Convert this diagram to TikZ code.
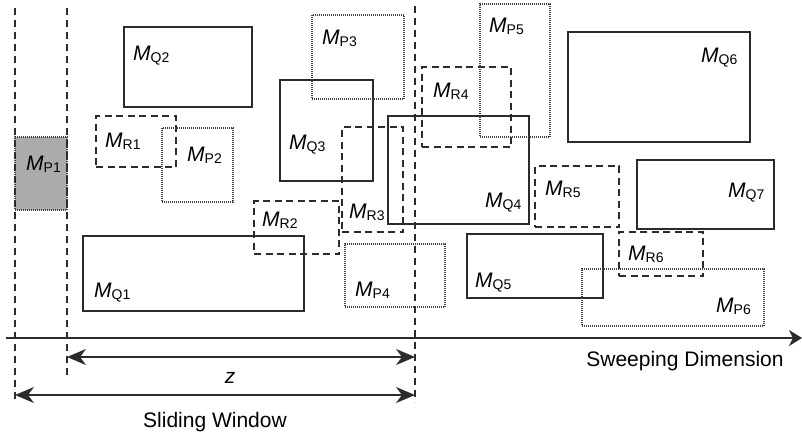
\documentclass[tikz,border=0pt]{standalone}
\usepackage{fontspec}
\setmainfont{Liberation Sans}
\usetikzlibrary{arrows.meta,fit}
\definecolor{linec}{HTML}{2B2B2B}
\definecolor{dotc}{HTML}{404040}
\definecolor{fillc}{HTML}{ABABAB}
\newcommand\ml[1]{{\itshape M}\raisebox{-2.5pt}{\fontsize{14}{14}\selectfont #1}}
\begin{document}
\begin{tikzpicture}[x=1pt,y=-1pt,
  qbox/.style={draw=linec, line width=1.4pt, inner sep=0pt},
  rbox/.style={draw=linec, line width=1.9pt, dash pattern=on 7pt off 4.5pt, inner sep=0pt},
  pbox/.style={draw=dotc, line width=1.3pt, dash pattern=on 1pt off 1pt, inner sep=0pt},
  vline/.style={draw=linec, line width=1.6pt, dash pattern=on 7pt off 5pt},
  lab/.style={anchor=base west, inner sep=0pt, font=\fontsize{21}{21}\selectfont},
  txt/.style={inner sep=0pt, font=\fontsize{21}{21}\selectfont},
  tip/.style={Stealth[length=19pt,width=16pt,inset=6pt]},
  dim/.style={{Stealth[length=19pt,width=16pt,inset=6pt]}-{Stealth[length=19pt,width=16pt,inset=6pt]}, draw=linec, line width=1.6pt},
]
\useasboundingbox (0,0) rectangle (802,440);
% vertical dashed lines
\coordinate (v1t) at (15,8);   \coordinate (v1b) at (15,402);
\coordinate (v2t) at (67,8);   \coordinate (v2b) at (67,375);
\coordinate (v3t) at (415,6);  \coordinate (v3b) at (415,402);
% MP1 gray box
\node[pbox, fill=fillc, fit={(15,137)(67,210)}] (P1) {};
% solid boxes (Q)
\node[qbox, fit={(124,27)(252,107)}] (Q2) {};
\node[qbox, fit={(83,236)(304,311)}] (Q1) {};
\node[qbox, fit={(280,80)(373,181)}] (Q3) {};
\node[qbox, fit={(388,116)(529,224)}] (Q4) {};
\node[qbox, fit={(467,234)(603,298)}] (Q5) {};
\node[qbox, fit={(568,32)(750,142)}] (Q6) {};
\node[qbox, fit={(637,160)(774,229)}] (Q7) {};
% dashed boxes (R)
\node[rbox, fit={(96,116)(176,167)}] (R1) {};
\node[rbox, fit={(254,201)(339,254)}] (R2) {};
\node[rbox, fit={(342,127)(403,232)}] (R3) {};
\node[rbox, fit={(422,67)(511,147)}] (R4) {};
\node[rbox, fit={(535,166)(619,227)}] (R5) {};
\node[rbox, fit={(619,232)(703,276)}] (R6) {};
% dotted boxes (P)
\node[pbox, fit={(162,128)(233,202)}] (P2) {};
\node[pbox, fit={(312,15)(404,99)}] (P3) {};
\node[pbox, fit={(345,244)(445,307)}] (P4) {};
\node[pbox, fit={(480,4)(550,137)}] (P5) {};
\node[pbox, fit={(582,269)(764,326)}] (P6) {};
% vertical lines
\draw[vline] (v1t) -- (v1b);
\draw[vline] (v2t) -- (v2b);
\draw[vline] (v3t) -- (v3b);
% labels
\node[lab] (lP1) at (26,170) {\ml{P1}};
\node[lab] (lQ2) at (133,60) {\ml{Q2}};
\node[lab] (lR1) at (105,147) {\ml{R1}};
\node[lab] (lP2) at (187,161) {\ml{P2}};
\node[lab] (lP3) at (322,44) {\ml{P3}};
\node[lab] (lQ3) at (289,149) {\ml{Q3}};
\node[lab] (lR4) at (433,97) {\ml{R4}};
\node[lab] (lP5) at (489,32) {\ml{P5}};
\node[lab] (lQ4) at (485,207) {\ml{Q4}};
\node[lab] (lR3) at (349,218) {\ml{R3}};
\node[lab] (lQ6) at (701,62) {\ml{Q6}};
\node[lab] (lR5) at (545,195) {\ml{R5}};
\node[lab] (lQ7) at (728,197) {\ml{Q7}};
\node[lab] (lR2) at (262,226) {\ml{R2}};
\node[lab] (lQ1) at (94,297) {\ml{Q1}};
\node[lab] (lP4) at (355,296) {\ml{P4}};
\node[lab] (lR6) at (628,260) {\ml{R6}};
\node[lab] (lQ5) at (475,287) {\ml{Q5}};
\node[lab] (lP6) at (716,312) {\ml{P6}};
% axis
\coordinate (ax0) at (6,338);
\coordinate (ax1) at (802,338);
\draw[draw=linec, line width=1.9pt, -{Stealth[length=13pt,width=16pt,inset=4pt]}] (ax0) -- (ax1);
\node[txt] (sweep) at (685,361) {Sweeping Dimension};
% dimension arrows
\coordinate (zl) at (67,357);  \coordinate (zr) at (415,357);
\draw[dim] (zl) -- (zr);
\node[txt] (zlab) at (230,378) {\itshape z};
\coordinate (wl) at (15,395);  \coordinate (wr) at (415,395);
\draw[dim] (wl) -- (wr);
\node[txt] (wlab) at (215,422) {Sliding Window};
\end{tikzpicture}
\end{document}
